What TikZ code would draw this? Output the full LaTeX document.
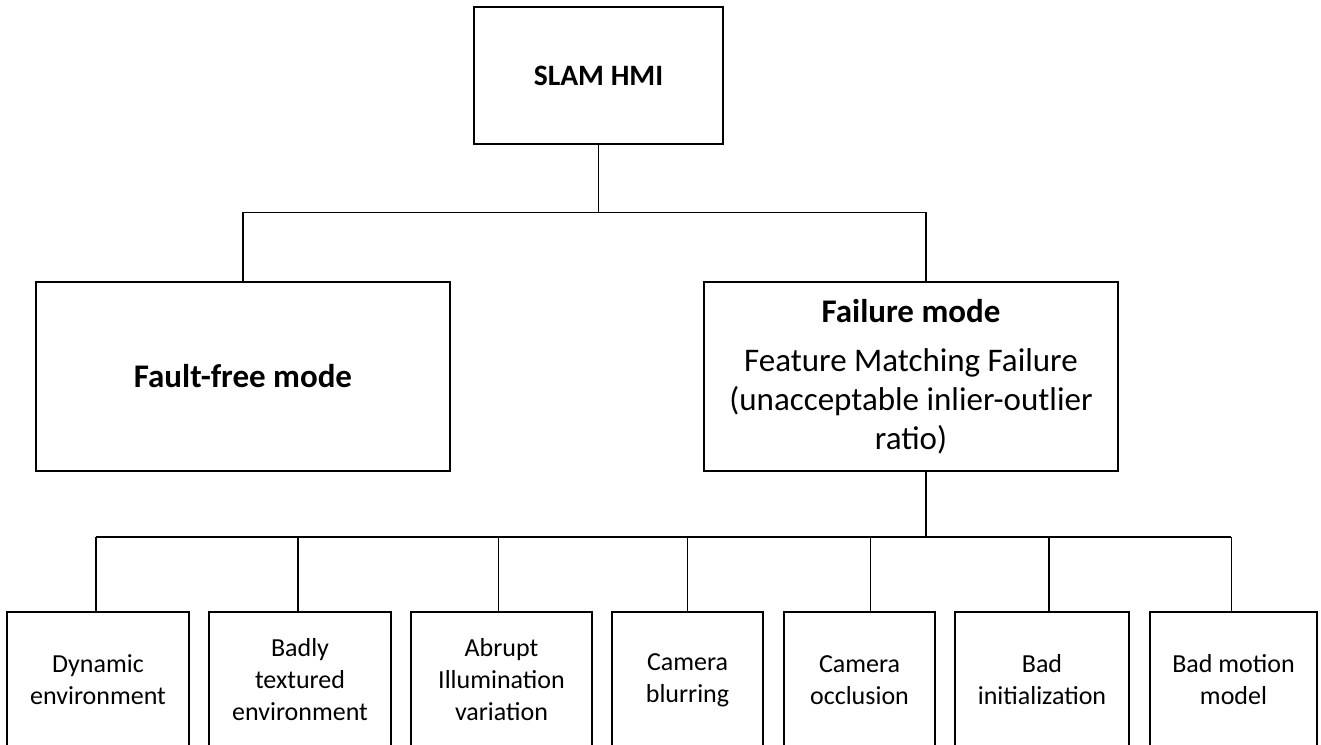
\documentclass[tikz,border=0pt]{standalone}
\usepackage{fontspec}
\setmainfont{Carlito}
\usetikzlibrary{positioning,calc}

\begin{document}
\begin{tikzpicture}[
  x=0.5pt, y=-0.5pt,
  font=\fontsize{13}{16}\selectfont,
  box/.style={draw,line width=1pt,align=center,inner sep=3pt},
  hmi/.style={box,font=\fontsize{14.8}{17}\selectfont\bfseries,
              minimum width=124.5pt,minimum height=68.5pt},
  mode/.style={box,font=\fontsize{16.5}{19.5}\selectfont,
               minimum width=207pt,minimum height=94.5pt},
  cause/.style={box,anchor=north,minimum height=68pt},
  link/.style={line width=0.8pt},
]
\useasboundingbox (0,0) rectangle (1321,744);

\node[hmi]  (hmi)  at (598.5,75.5) {SLAM HMI};
\node[mode] (free) at (243,376.5)  {\bfseries Fault-free mode};
\node[mode] (fail) at (911,376.5)  {{\bfseries Failure mode}\\[5pt]Feature Matching Failure\\(unacceptable inlier-outlier\\ratio)};

\node[cause,minimum width=91pt]   (c1) at (98,611)     {Dynamic\\environment};
\node[cause,minimum width=91pt]   (c2) at (300,611)    {Badly\\textured\\environment};
\node[cause,minimum width=90.5pt] (c3) at (501.5,611)  {Abrupt\\Illumination\\variation};
\node[cause,minimum width=75.5pt] (c4) at (687.5,611)  {Camera\\blurring};
\node[cause,minimum width=75.5pt] (c5) at (859.5,611)  {Camera\\occlusion};
\node[cause,minimum width=87pt]   (c6) at (1042,611)   {Bad\\initialization};
\node[cause,minimum width=83.5pt] (c7) at (1233.5,611) {Bad motion\\model};

% top level split
\coordinate (bus1) at (598.5,212.5);
\draw[link] (hmi.south) -- (bus1);
\draw[link] (free.north) |- (bus1) -| ([xshift=7.5pt]fail.north);

% failure causes
\coordinate (busL) at (96,537);
\coordinate (busR) at (1231,537);
\draw[link] ([xshift=7.5pt]fail.south) |- (busR);
\draw[link] (busL) -- (busR);
\foreach \c/\dx in {c1/-1,c2/-1,c3/-1.5,c4/0,c5/5.5,c6/3.5,c7/-1}
  \draw[link] ([xshift=\dx pt]\c.north) -- ++(0,-74);
\end{tikzpicture}
\end{document}
